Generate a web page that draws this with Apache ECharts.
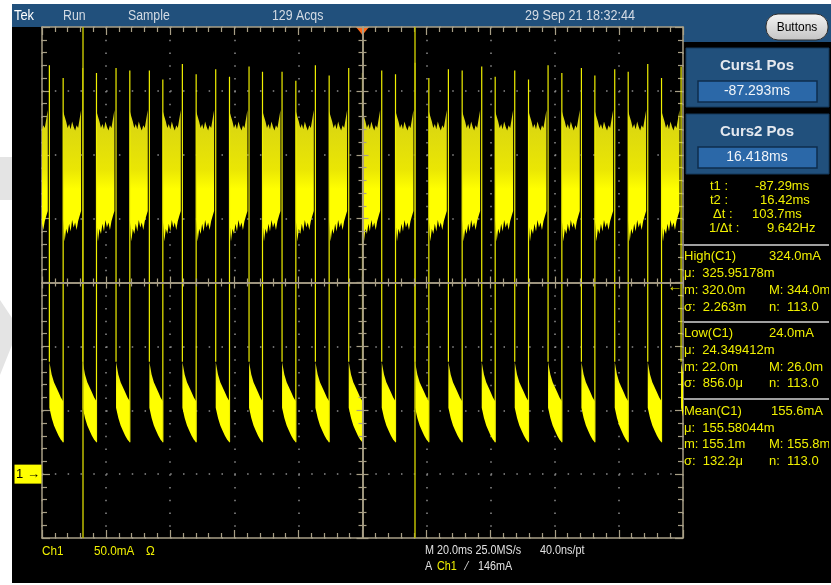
<!DOCTYPE html>
<html>
<head>
<meta charset="utf-8">
<script src="https://cdn.jsdelivr.net/npm/echarts@6/dist/echarts.min.js"></script>
<style>
html, body { margin: 0; padding: 0; background: #fff; }
#chart { width: 831px; height: 585px; }
</style>
</head>
<body>
<div id="chart"></div>
<script>
// 20 ms/div horizontally, 50 mA/div vertically (ground one division above the bottom)
const timeTicks = [-100, -80, -60, -40, -20, 0, 20, 40, 60, 80, 100];
const currentTicks = [-50, 0, 50, 100, 150, 200, 250, 300, 350];

// high-current phases of each burst (ms)
const highStart = [-103.8, -93.4, -83.0, -72.6, -62.3, -51.9, -41.5, -31.2, -20.8, -10.4, 0.0,
  10.3, 20.7, 31.1, 41.4, 51.8, 62.2, 72.5, 82.9, 93.3, 103.6];
const highEnd = [-97.7, -87.3, -76.9, -66.5, -56.2, -45.8, -35.4, -25.1, -14.7, -4.3, 6.0,
  16.4, 26.8, 37.2, 47.5, 57.9, 68.3, 78.7, 89.0, 99.4, 109.8];
// spike tops on the rising and falling edge of each burst (mA)
const risePeak = [312, 310, 314, 316, 309, 313, 311, 315, 308, 312, 314, 313, 310, 316, 311, 309, 314, 312, 315, 310, 312];
const fallPeak = [320, 318, 318, 316, 321, 317, 319, 315, 320, 318, 316, 322, 317, 319, 316, 320, 318, 317, 321, 319, 318];
// envelope of a high phase, left to right (mA)
const highTop = [284, 280, 276, 271, 274, 270, 276, 272, 269, 273, 271, 278, 285];
const highBottom = [199, 182, 192, 188, 196, 190, 199, 193, 197, 191, 198, 202, 206];
// envelope of the decaying low phase between bursts (mA)
const lowTop = [88, 78, 72, 68, 64, 60, 57];
const lowBottom = [52, 44, 38, 34, 30, 27, 25];

const cursorPos = [-87.293, 16.418];
const triggerLevel = 146;

const yel = '#ffff00';
const grat = '#a89f86';
const barBlue = '#21507c';
const font = '"Liberation Sans", Arial, sans-serif';

function txt (x, y, text, fill, size, sx, align, bold) {
  return {
    type: 'text', x: x, y: y, scaleX: sx || 1, z: 20,
    style: {
      text: text, x: 0, y: 0, fill: fill,
      font: (bold ? 'bold ' : '') + size + 'px ' + font,
      align: align || 'left', verticalAlign: 'middle'
    }
  }
}

function renderHigh (params, api) {
  const t0 = api.value(0)
  const t1 = api.value(1)
  const bandEnd = t1 - 0.5
  const n = highTop.length
  const upper = []
  const lower = []
  for (let i = 0; i < n; i++) {
    const t = t0 + (bandEnd - t0) * i / (n - 1)
    upper.push(api.coord([t, highTop[i]]))
    lower.unshift(api.coord([t, highBottom[i]]))
  }
  const r0 = api.coord([t0, lowBottom[lowBottom.length - 1]])
  const r1 = api.coord([t0, api.value(2)])
  const f0 = api.coord([t1, api.value(3)])
  const f1 = api.coord([t1, lowTop[0]])
  return {
    type: 'group',
    children: [
      {
        type: 'polygon',
        shape: { points: upper.concat(lower) },
        style: {
          fill: new echarts.graphic.LinearGradient(0, 0, 0, 1, [
            { offset: 0, color: '#d6d214' },
            { offset: 0.45, color: '#eae604' },
            { offset: 0.6, color: '#ffff00' },
            { offset: 1, color: '#ffff00' }
          ])
        }
      },
      { type: 'line', shape: { x1: r0[0], y1: r0[1], x2: r1[0], y2: r1[1] }, style: { stroke: '#f0f000', lineWidth: 1.2 } },
      { type: 'line', shape: { x1: f0[0], y1: f0[1], x2: f1[0], y2: f1[1] }, style: { stroke: '#f0f000', lineWidth: 1.2 } }
    ]
  }
}

function renderLow (params, api) {
  const t0 = api.value(0)
  const t1 = api.value(1)
  const n = lowTop.length
  const upper = []
  const lower = []
  for (let i = 0; i < n; i++) {
    const t = t0 + (t1 - t0) * i / (n - 1)
    upper.push(api.coord([t, lowTop[i]]))
    lower.unshift(api.coord([t, lowBottom[i]]))
  }
  return {
    type: 'polygon',
    shape: { points: upper.concat(lower) },
    style: {
      fill: new echarts.graphic.LinearGradient(0, 0, 0, 1, [
        { offset: 0, color: '#e4e010' },
        { offset: 0.35, color: '#ffff00' },
        { offset: 1, color: '#ffff00' }
      ])
    }
  }
}

const highData = highStart.map((s, i) => [s, highEnd[i], risePeak[i], fallPeak[i]])
const lowData = highEnd.slice(0, -1).map((e, i) => [e, highStart[i + 1]])

const edgeAxis = {
  axisLine: { show: true, onZero: false, lineStyle: { color: grat, width: 1.5 } },
  axisTick: { show: true, inside: true, length: 8, lineStyle: { color: grat, width: 1.2 } },
  minorTick: { show: true, splitNumber: 5, length: 5, lineStyle: { color: grat, width: 1.2 } },
  axisLabel: { show: false },
  splitLine: { show: false }
}
function edge (extra) {
  return Object.assign({}, JSON.parse(JSON.stringify(edgeAxis)), extra)
}
const centreAxis = {
  axisLine: { show: true, onZero: true, lineStyle: { color: grat, width: 1.5 } },
  axisTick: { show: true, inside: true, length: 6, lineStyle: { color: grat, width: 1.2 } },
  minorTick: { show: true, splitNumber: 5, length: 4, lineStyle: { color: grat, width: 1.2 } },
  axisLabel: { show: false },
  splitLine: { show: false },
  z: 5
}
function centre (extra) {
  return Object.assign({}, JSON.parse(JSON.stringify(centreAxis)), extra)
}

const tMin = timeTicks[0]
const tMax = timeTicks[timeTicks.length - 1]
const iMin = currentTicks[0]
const iMax = currentTicks[currentTicks.length - 1]

const chart = echarts.init(document.getElementById('chart'))
chart.setOption({
  animation: false,
  backgroundColor: '#ffffff',
  grid: [
    { left: 42, top: 27, width: 641, height: 511 },
    { left: 42, top: 27, width: 641, height: 511 }
  ],
  xAxis: [
    edge({ type: 'value', gridIndex: 0, position: 'bottom', min: tMin, max: tMax, interval: 20,
      splitLine: { show: true, lineStyle: { color: '#8c8c8c', width: 1.5, type: [1.5, 11.275] } } }),
    edge({ type: 'value', gridIndex: 0, position: 'top', min: tMin, max: tMax, interval: 20 }),
    centre({ type: 'value', gridIndex: 1, position: 'bottom', min: -5, max: 5, interval: 1 }),
    centre({ type: 'value', gridIndex: 1, position: 'top', min: -5, max: 5, interval: 1 })
  ],
  yAxis: [
    edge({ type: 'value', gridIndex: 0, position: 'left', min: iMin, max: iMax, interval: 50,
      splitLine: { show: true, lineStyle: { color: '#8c8c8c', width: 1.5, type: [1.5, 11.32] } } }),
    edge({ type: 'value', gridIndex: 0, position: 'right', min: iMin, max: iMax, interval: 50 }),
    centre({ type: 'value', gridIndex: 1, position: 'left', min: -4, max: 4, interval: 1 }),
    centre({ type: 'value', gridIndex: 1, position: 'right', min: -4, max: 4, interval: 1 })
  ],
  series: [
    {
      type: 'custom',
      name: 'low',
      xAxisIndex: 0,
      yAxisIndex: 0,
      clip: true,
      renderItem: renderLow,
      data: lowData,
      z: 2
    },
    {
      type: 'custom',
      name: 'high',
      xAxisIndex: 0,
      yAxisIndex: 0,
      clip: true,
      renderItem: renderHigh,
      data: highData,
      z: 3,
      markLine: {
        silent: true,
        symbol: ['none', 'none'],
        label: { show: false },
        lineStyle: { color: '#bdbd00', width: 1.5, type: 'solid' },
        data: cursorPos.map(c => ({ xAxis: c }))
      },
      markPoint: {
        silent: true,
        data: [
          {
            coord: [tMin, 0], symbol: 'rect', symbolSize: [27, 19], symbolOffset: [-14, 0],
            itemStyle: { color: yel },
            label: { show: true, formatter: '1 \u2192', color: '#000', fontSize: 13, fontFamily: font }
          },
          {
            coord: [0, iMax], symbol: 'triangle', symbolRotate: 180, symbolSize: [13, 8], symbolOffset: [0, 4],
            itemStyle: { color: '#ff6a1a' },
            label: { show: false }
          },
          {
            coord: [tMax, triggerLevel], symbol: 'rect', symbolSize: [1, 1],
            itemStyle: { color: 'rgba(0,0,0,0)' },
            label: { show: true, position: 'inside', offset: [-8, -1], formatter: '\u2190', color: '#e8e800', fontSize: 15 }
          }
        ]
      }
    }
  ],
  graphic: [
    // watermark remnants on the white margin
    { type: 'polygon', z: -20, shape: { points: [[0, 157], [12, 157], [12, 200], [0, 200]] }, style: { fill: '#e4e4e4' } },
    { type: 'polygon', z: -20, shape: { points: [[0, 300], [12, 318], [12, 345], [0, 375]] }, style: { fill: '#e4e4e4' } },
    // scope screen
    { type: 'rect', z: -10, shape: { x: 12, y: 4, width: 819, height: 579 }, style: { fill: '#000' } },
    { type: 'rect', z: -9, shape: { x: 12, y: 4, width: 819, height: 23 }, style: { fill: barBlue } },
    { type: 'rect', z: -9, shape: { x: 683, y: 4, width: 148, height: 38 }, style: { fill: barBlue } },
    txt(14, 16, 'Tek', '#ffffff', 14, 0.92),
    txt(63, 16, 'Run', '#d4dbe4', 14, 0.88),
    txt(128, 16, 'Sample', '#d4dbe4', 14, 0.88),
    txt(272, 16, '129 Acqs', '#d4dbe4', 14, 0.88),
    txt(525, 16, '29 Sep 21 18:32:44', '#d4dbe4', 14, 0.9),
    // Buttons
    {
      type: 'rect', z: 15, shape: { x: 766, y: 14, width: 62, height: 26, r: 12 },
      style: {
        fill: new echarts.graphic.LinearGradient(0, 0, 0, 1, [
          { offset: 0, color: '#f4f4f4' }, { offset: 1, color: '#c4c4c4' }
        ]),
        stroke: '#303030', lineWidth: 1
      }
    },
    txt(797, 27, 'Buttons', '#000000', 13, 0.92, 'center'),
    // cursor position panels
    { type: 'rect', z: 15, shape: { x: 686, y: 48, width: 143, height: 59 }, style: { fill: barBlue, stroke: '#15385a', lineWidth: 1 } },
    txt(757, 66, 'Curs1 Pos', '#e4e8ee', 15, 1, 'center', true),
    { type: 'rect', z: 16, shape: { x: 698, y: 81, width: 119, height: 21 }, style: { fill: '#2b68a8', stroke: '#0e2c4c', lineWidth: 1.5 } },
    txt(757, 91.5, '-87.293ms', '#f0f4f8', 14, 1, 'center'),
    { type: 'rect', z: 15, shape: { x: 686, y: 114, width: 143, height: 60 }, style: { fill: barBlue, stroke: '#15385a', lineWidth: 1 } },
    txt(757, 132, 'Curs2 Pos', '#e4e8ee', 15, 1, 'center', true),
    { type: 'rect', z: 16, shape: { x: 698, y: 147, width: 119, height: 21 }, style: { fill: '#2b68a8', stroke: '#0e2c4c', lineWidth: 1.5 } },
    txt(757, 157.5, '16.418ms', '#f0f4f8', 14, 1, 'center'),
    // cursor readouts
    txt(710, 186, 't1 :', '#f0f000', 13),
    txt(755, 186, '-87.29ms', '#f0f000', 13),
    txt(710, 200, 't2 :', '#f0f000', 13),
    txt(760, 200, '16.42ms', '#f0f000', 13),
    txt(713, 214, '\u0394t :', '#f0f000', 13),
    txt(752, 214, '103.7ms', '#f0f000', 13),
    txt(709, 228, '1/\u0394t :', '#f0f000', 13),
    txt(767, 228, '9.642Hz', '#f0f000', 13),
    // measurement blocks
    { type: 'rect', z: 15, shape: { x: 684, y: 244, width: 145, height: 2 }, style: { fill: '#a0a0a0' } },
    txt(684, 256, 'High(C1)', '#f0f000', 13),
    txt(769, 256, '324.0mA', '#f0f000', 13),
    txt(684, 273, '\u03bc:  325.95178m', '#f0f000', 13),
    txt(684, 290, 'm: 320.0m', '#f0f000', 13),
    txt(769, 290, 'M: 344.0m', '#f0f000', 13),
    txt(684, 307, '\u03c3:  2.263m', '#f0f000', 13),
    txt(769, 307, 'n:  113.0', '#f0f000', 13),
    { type: 'rect', z: 15, shape: { x: 684, y: 321, width: 145, height: 2 }, style: { fill: '#a0a0a0' } },
    txt(684, 333, 'Low(C1)', '#f0f000', 13),
    txt(769, 333, '24.0mA', '#f0f000', 13),
    txt(684, 350, '\u03bc:  24.349412m', '#f0f000', 13),
    txt(684, 367, 'm: 22.0m', '#f0f000', 13),
    txt(769, 367, 'M: 26.0m', '#f0f000', 13),
    txt(684, 383, '\u03c3:  856.0\u03bc', '#f0f000', 13),
    txt(769, 383, 'n:  113.0', '#f0f000', 13),
    { type: 'rect', z: 15, shape: { x: 684, y: 398, width: 145, height: 2 }, style: { fill: '#a0a0a0' } },
    txt(684, 411, 'Mean(C1)', '#f0f000', 13),
    txt(771, 411, '155.6mA', '#f0f000', 13),
    txt(684, 428, '\u03bc:  155.58044m', '#f0f000', 13),
    txt(684, 444, 'm: 155.1m', '#f0f000', 13),
    txt(769, 444, 'M: 155.8m', '#f0f000', 13),
    txt(684, 461, '\u03c3:  132.2\u03bc', '#f0f000', 13),
    txt(769, 461, 'n:  113.0', '#f0f000', 13),
    { type: 'rect', z: 25, shape: { x: 829, y: 240, width: 2, height: 240 }, style: { fill: '#000' } },
    // bottom status line
    txt(42, 551, 'Ch1', '#f0f000', 13, 0.9),
    txt(94, 551, '50.0mA', '#f0f000', 13, 0.9),
    txt(146, 551, '\u03a9', '#f0f000', 13, 0.9),
    txt(425, 551, 'M 20.0ms 25.0MS/s', '#e2e2e2', 12, 0.9),
    txt(540, 551, '40.0ns/pt', '#e2e2e2', 12, 0.9),
    txt(425, 567, 'A', '#e2e2e2', 12, 0.9),
    txt(437, 567, 'Ch1', '#f0f000', 12, 0.9),
    txt(466, 567, '\u2044', '#e2e2e2', 12, 0.9),
    txt(478, 567, '146mA', '#e2e2e2', 12, 0.9)
  ]
})
</script>
</body>
</html>
